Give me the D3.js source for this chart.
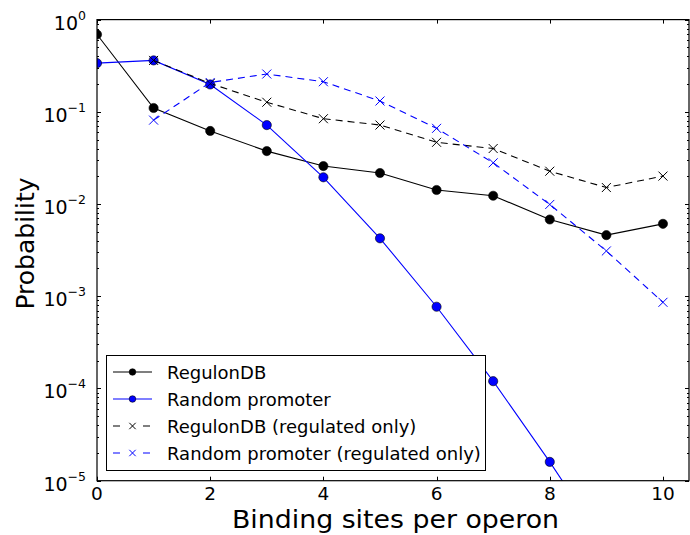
<!DOCTYPE html>
<html>
<head>
<meta charset="utf-8">
<script src="https://cdn.jsdelivr.net/npm/d3@7/dist/d3.min.js"></script>
<style>
  html, body { margin: 0; padding: 0; background: #fff; }
  svg { display: block; font-family: "DejaVu Sans", sans-serif; }
</style>
</head>
<body>
<svg id="chart" width="690" height="535"></svg>
<script>
// Binding-site count per operon and the probability of each count
const sites = [0, 1, 2, 3, 4, 5, 6, 7, 8, 9, 10];
const regulonDB = [0.69, 0.110, 0.062, 0.0375, 0.0258, 0.0217, 0.0142, 0.0123, 0.0068, 0.0046, 0.0061];
const sitesRandom = [0, 1, 2, 3, 4, 5, 6, 7, 8, 9];
const randomPromoter = [0.337, 0.361, 0.198, 0.0718, 0.0195, 0.00425, 0.00077, 0.00012, 0.000016, 0.0000019];
const sitesRegulated = [1, 2, 3, 4, 5, 6, 7, 8, 9, 10];
const regulonDBRegulated = [0.361, 0.203, 0.127, 0.0842, 0.0719, 0.0467, 0.040, 0.0227, 0.0151, 0.0201];
const randomRegulated = [0.0813, 0.208, 0.257, 0.212, 0.131, 0.0662, 0.028, 0.0099, 0.0031, 0.00086];

const xTicks = [0, 2, 4, 6, 8, 10];
const yExponents = [0, -1, -2, -3, -4, -5];
const seriesNames = ["RegulonDB", "Random promoter", "RegulonDB (regulated only)", "Random promoter (regulated only)"];

const svg = d3.select("#chart");
const plot = { left: 97, right: 689, top: 19.6, bottom: 480.7 };

const x = d3.scaleLinear().domain([0, 10.46]).range([plot.left, plot.right]);
const y = d3.scaleLog().domain([1e-5, 1]).range([plot.bottom, plot.top]);

// clip region for the data
svg.append("defs").append("clipPath").attr("id", "plotClip")
  .append("rect")
  .attr("x", plot.left).attr("y", plot.top)
  .attr("width", plot.right - plot.left).attr("height", plot.bottom - plot.top);

// ---- ticks on all four sides, pointing inward ----
const tickG = svg.append("g").attr("stroke", "#000").attr("stroke-width", 1);
const majorLen = 4, minorLen = 2;

xTicks.forEach(v => {
  const px = Math.round(x(v)) + 0.5;
  tickG.append("line").attr("x1", px).attr("x2", px).attr("y1", plot.bottom).attr("y2", plot.bottom - majorLen);
  tickG.append("line").attr("x1", px).attr("x2", px).attr("y1", plot.top).attr("y2", plot.top + majorLen);
});

const minorVals = [];
for (let e = -5; e < 0; e++) for (let m = 2; m <= 9; m++) minorVals.push(m * Math.pow(10, e));

yExponents.forEach(e => {
  const py = Math.round(y(Math.pow(10, e))) + 0.5;
  tickG.append("line").attr("x1", plot.left).attr("x2", plot.left + majorLen).attr("y1", py).attr("y2", py);
  tickG.append("line").attr("x1", plot.right).attr("x2", plot.right - majorLen).attr("y1", py).attr("y2", py);
});
minorVals.forEach(v => {
  const py = Math.round(y(v)) + 0.5;
  tickG.append("line").attr("x1", plot.left).attr("x2", plot.left + minorLen).attr("y1", py).attr("y2", py);
  tickG.append("line").attr("x1", plot.right).attr("x2", plot.right - minorLen).attr("y1", py).attr("y2", py);
});

// ---- tick labels ----
svg.append("g").selectAll("text").data(xTicks).join("text")
  .attr("x", d => x(d))
  .attr("y", 500)
  .attr("text-anchor", "middle")
  .attr("font-size", 18.5)
  .attr("fill", "#000")
  .text(d => d);

const yLab = svg.append("g").selectAll("text").data(yExponents).join("text")
  .attr("x", 86)
  .attr("y", d => y(Math.pow(10, d)) + 10)
  .attr("text-anchor", "end")
  .attr("font-size", 19)
  .attr("fill", "#000");
yLab.append("tspan").text("10");
yLab.append("tspan").attr("font-size", 12.5).attr("dy", -10)
  .text(d => d === 0 ? "0" : "\u2212" + Math.abs(d));

// ---- axis titles ----
svg.append("text")
  .attr("x", 232)
  .attr("y", 528)
  .attr("font-size", 24)
  .attr("textLength", 327)
  .attr("lengthAdjust", "spacingAndGlyphs")
  .attr("fill", "#000")
  .text("Binding sites per operon");

svg.append("text")
  .attr("transform", "translate(34, 243.5) rotate(-90)")
  .attr("text-anchor", "middle")
  .attr("font-size", 25)
  .attr("fill", "#000")
  .text("Probability");

// ---- data ----
const data = svg.append("g").attr("clip-path", "url(#plotClip)");
const line = d3.line().x(d => x(d[0])).y(d => y(d[1]));

const series = [
  { xs: sites, ys: regulonDB, color: "#000", dash: null, marker: "circle" },
  { xs: sitesRandom, ys: randomPromoter, color: "#0000ff", dash: null, marker: "circle" },
  { xs: sitesRegulated, ys: regulonDBRegulated, color: "#000", dash: "7,5", marker: "x" },
  { xs: sitesRegulated, ys: randomRegulated, color: "#0000ff", dash: "7,5", marker: "x" }
];

function drawMarker(g, type, color, cx, cy, r) {
  if (type === "circle") {
    g.append("circle").attr("cx", cx).attr("cy", cy).attr("r", r)
      .attr("fill", color).attr("stroke", "#000").attr("stroke-width", 0.6);
  } else {
    g.append("path")
      .attr("d", `M${cx - r},${cy - r}L${cx + r},${cy + r}M${cx - r},${cy + r}L${cx + r},${cy - r}`)
      .attr("stroke", color).attr("stroke-width", 1).attr("fill", "none");
  }
}

series.forEach(s => {
  const pts = s.xs.map((v, i) => [v, s.ys[i]]);
  data.append("path")
    .attr("d", line(pts))
    .attr("fill", "none")
    .attr("stroke", s.color)
    .attr("stroke-width", 1.1)
    .attr("stroke-dasharray", s.dash);
  pts.forEach(p => drawMarker(data, s.marker, s.color, x(p[0]), y(p[1]), s.marker === "circle" ? 4.6 : 4.5));
});

// ---- frame ----
svg.append("rect")
  .attr("x", plot.left).attr("y", plot.top)
  .attr("width", plot.right - plot.left).attr("height", plot.bottom - plot.top)
  .attr("fill", "none").attr("stroke", "#000").attr("stroke-width", 1.2);

// ---- legend ----
const lg = svg.append("g");
lg.append("rect")
  .attr("x", 106.5).attr("y", 355.5).attr("width", 379).attr("height", 115)
  .attr("fill", "#fff").attr("stroke", "#000").attr("stroke-width", 1);

series.forEach((s, i) => {
  const ly = 372 + i * 27;
  lg.append("line")
    .attr("x1", 113).attr("x2", 152).attr("y1", ly).attr("y2", ly)
    .attr("stroke", s.color).attr("stroke-width", 1.1)
    .attr("stroke-dasharray", s.dash ? "7,23" : null);
  drawMarker(lg, s.marker, s.color, 132.5, ly, s.marker === "circle" ? 3.3 : 3.2);
  lg.append("text")
    .attr("x", 167).attr("y", ly + 6.5)
    .attr("font-size", 18)
    .attr("fill", "#000")
    .text(seriesNames[i]);
});
</script>
</body>
</html>
